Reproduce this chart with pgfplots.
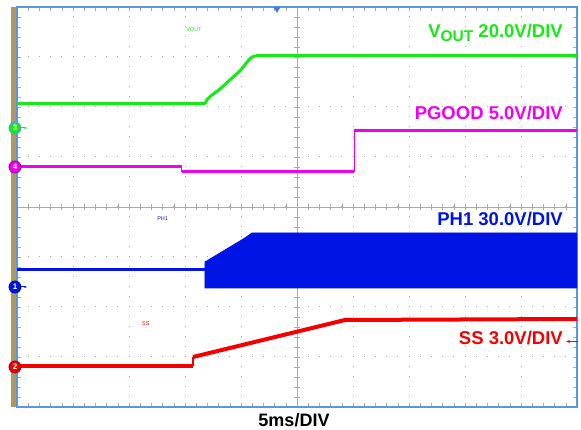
\documentclass[border=0pt]{standalone}
\usepackage{pgfplots}
\pgfplotsset{compat=1.18}
\usetikzlibrary{arrows.meta}
\usepackage{fontspec}
\setmainfont{Liberation Sans}
\definecolor{scgreen}{RGB}{20,235,20}
\definecolor{scmag}{RGB}{240,0,240}
\definecolor{scblue}{RGB}{0,20,230}
\definecolor{scred}{RGB}{245,0,0}
\definecolor{frameblue}{RGB}{90,150,230}
\definecolor{tanbar}{RGB}{176,150,95}
\definecolor{gridc}{RGB}{170,170,170}
\begin{document}
\begin{tikzpicture}[x=1pt,y=1pt]
\useasboundingbox (-17,-23) rectangle (564,407);
\fill[tanbar] (-6,0) rectangle (-1,400);
% centre crosshair
\draw[gridc, line width=0.6pt] (280,0)--(280,400);
\draw[gridc, line width=0.6pt] (0,200)--(560,200);
\foreach \y in {0,10,...,400} \draw[gridc, line width=0.6pt] (277,\y)--(283,\y);
\foreach \x in {0,11.2,...,560} \draw[gridc, line width=0.6pt] (\x,197)--(\x,203);
\begin{axis}[
 at={(0,0)}, anchor=south west,
 scale only axis, width=560pt, height=400pt,
 xmin=0,xmax=10,ymin=0,ymax=8,
 xtick={0,...,10}, ytick={0,...,8},
 xticklabels={}, yticklabels={},
 minor x tick num=4, minor y tick num=4,
 tick style={gridc, line width=0.6pt},
 major tick length=4pt, minor tick length=4pt,
 tick align=inside,
 grid=major,
 x grid style={gridc, line width=1pt, dash pattern=on 1pt off 9pt, dash phase=0.5pt},
 y grid style={gridc, line width=1pt, dash pattern=on 1pt off 10.2pt, dash phase=0.5pt},
 axis line style={frameblue, line width=2pt},
 clip=true,
]
% VOUT
\addplot[scgreen, line width=3pt] coordinates {(0,6.06) (3.357,6.06)};
\addplot[scgreen, line width=3pt, smooth, tension=0.4] coordinates {(3.357,6.06) (3.39,6.14) (3.46,6.22) (3.625,6.36) (3.80,6.54) (3.98,6.72) (4.125,6.92) (4.196,7.0) (4.27,7.02)};
\addplot[scgreen, line width=3pt] coordinates {(4.27,7.02) (10,7.02)};
% PGOOD
\addplot[scmag, line width=3pt, line cap=butt] coordinates {(0,4.8) (2.946,4.8)};
\addplot[scmag, line width=1pt] coordinates {(2.946,4.8) (2.946,4.7)};
\addplot[scmag, line width=3pt, line cap=butt] coordinates {(2.946,4.7) (6.018,4.7)};
\addplot[scmag, line width=1pt] coordinates {(6.018,4.7) (6.018,5.52)};
\addplot[scmag, line width=3pt, line cap=butt] coordinates {(6.018,5.52) (10,5.52)};
% PH1
\addplot[scblue, line width=3pt, line cap=butt] coordinates {(0,2.74) (3.357,2.74)};
\addplot[fill=scblue, draw=scblue, line width=0.8pt] coordinates {(3.357,2.38) (3.357,2.9) (3.536,3.02) (3.804,3.2) (4.07,3.38) (4.196,3.48) (10,3.48) (10,2.38)} -- cycle;
% SS
\addplot[scred, line width=4pt, line cap=butt] coordinates {(0,0.82) (3.143,0.82)};
\addplot[scred, line width=1.2pt] coordinates {(3.143,0.82) (3.143,1.0)};
\addplot[scred, line width=4pt, line cap=butt] coordinates {(3.143,1.0) (5.857,1.74) (10,1.76)};
% labels
\node[anchor=base east, inner xsep=0pt, text=scgreen, font=\fontsize{18.5}{19}\selectfont\bfseries] at (axis cs:9.75,7.39) {V\raisebox{-4.5pt}{\fontsize{15.5}{16}\selectfont OUT} 20.0V/DIV};
\node[anchor=base east, inner xsep=0pt, text=scmag, font=\fontsize{18.5}{19}\selectfont\bfseries] at (axis cs:9.75,5.74) {PGOOD 5.0V/DIV};
\node[anchor=base east, inner xsep=0pt, text=scblue, font=\fontsize{18.5}{19}\selectfont\bfseries] at (axis cs:9.75,3.62) {PH1 30.0V/DIV};
\node[anchor=base east, inner xsep=0pt, text=scred, font=\fontsize{18.5}{19}\selectfont\bfseries] at (axis cs:9.75,1.24) {SS 3.0V/DIV};
\node[text=scgreen, font=\fontsize{5.5}{6}\selectfont] at (axis cs:3.16,7.54) {VOUT};
\node[text=scblue, font=\fontsize{5.5}{6}\selectfont] at (axis cs:2.6,3.76) {PH1};
\node[text=scred, font=\fontsize{5.5}{6}\selectfont] at (axis cs:2.3,1.66) {SS};
\end{axis}
\node[anchor=base, font=\fontsize{18}{18}\selectfont\bfseries] at (277,-19.5) {5ms/DIV};
% trigger marker
\fill[frameblue!80!blue] (256.5,400) -- (263.5,400) -- (260,394) -- cycle;
% channel markers
\draw[scgreen, line width=1pt, -{Stealth[length=3pt]}] (3,279)--(10,279);
\node[circle, fill=scgreen, draw=frameblue, line width=0.8pt, inner sep=0pt, minimum size=12pt, font=\fontsize{8}{8}\selectfont\bfseries, text=white] at (-2,279) {3};
\node[circle, fill=scmag, draw=scmag!60!black, line width=0.8pt, inner sep=0pt, minimum size=12pt, font=\fontsize{8}{8}\selectfont\bfseries, text=white] at (-2,240) {4};
\draw[scblue, line width=1pt, -{Stealth[length=3pt]}] (3,120)--(10,120);
\node[circle, fill=scblue, draw=scblue!60!black, line width=0.8pt, inner sep=0pt, minimum size=12pt, font=\fontsize{8}{8}\selectfont\bfseries, text=white] at (-2,120) {1};
\node[circle, fill=scred, draw=scred!60!black, line width=0.8pt, inner sep=0pt, minimum size=12pt, font=\fontsize{8}{8}\selectfont\bfseries, text=white] at (-2,40) {2};
% SS right marker
\draw[scred, line width=0.8pt, {Stealth[length=4pt]}-] (549,65.5)--(561,65.5);
\end{tikzpicture}
\end{document}
